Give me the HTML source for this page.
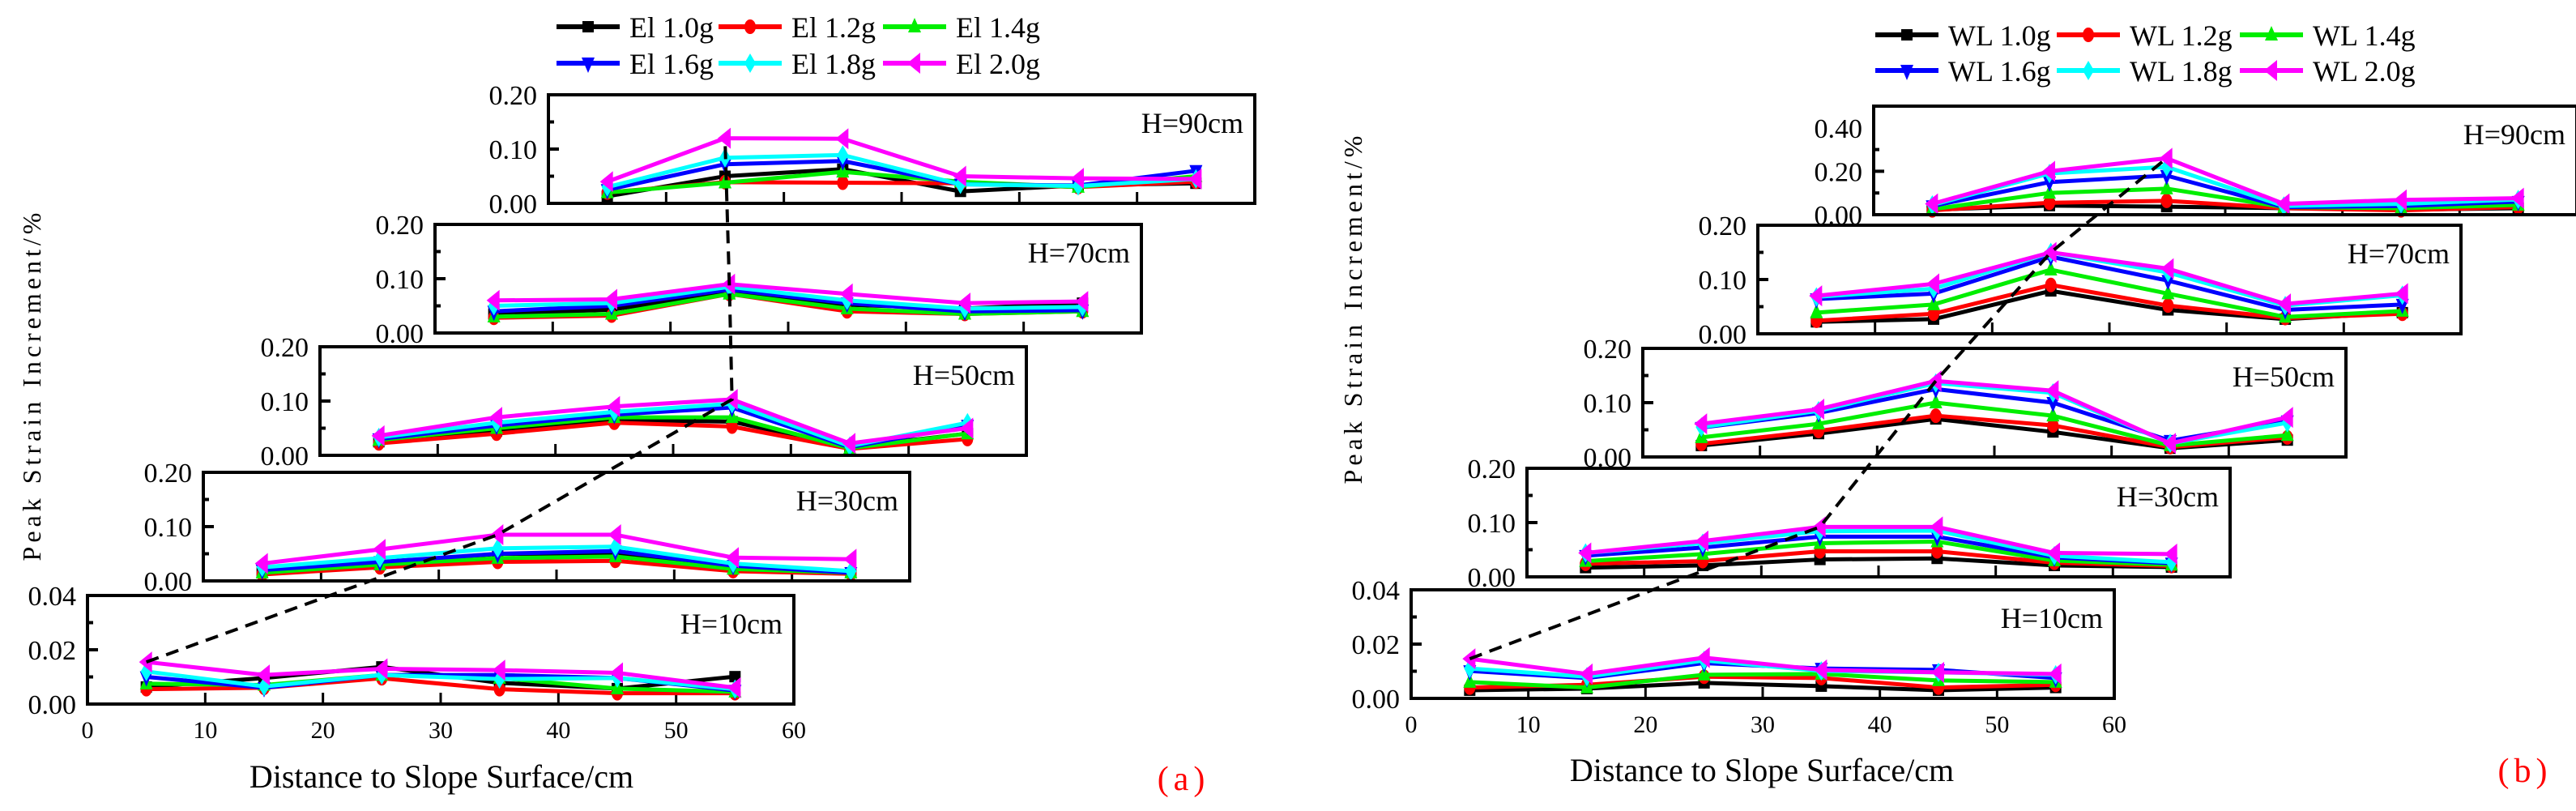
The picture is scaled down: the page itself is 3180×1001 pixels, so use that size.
<!DOCTYPE html>
<html><head><meta charset="utf-8"><style>
html,body{margin:0;padding:0;background:#fff;}
svg{display:block;font-family:"Liberation Serif","Times New Roman",serif;}
svg text{font-family:"Liberation Serif","Times New Roman",serif;}
</style></head><body>
<svg id="chart" width="3180" height="1001" viewBox="0 0 3180 1001" xmlns="http://www.w3.org/2000/svg" font-family="Liberation Serif, serif">
<rect x="0" y="0" width="3180" height="1001" fill="#fff"/>
</svg>
<script>
const distances = [5, 15, 25, 35, 45, 55];
const xTicks = [0, 10, 20, 30, 40, 50, 60];
const heights = ['H=10cm', 'H=30cm', 'H=50cm', 'H=70cm', 'H=90cm'];
const elNames = ['El 1.0g', 'El 1.2g', 'El 1.4g', 'El 1.6g', 'El 1.8g', 'El 2.0g'];
const wlNames = ['WL 1.0g', 'WL 1.2g', 'WL 1.4g', 'WL 1.6g', 'WL 1.8g', 'WL 2.0g'];

const elH10 = [
  [0.0063, 0.0096, 0.0137, 0.0078, 0.0057, 0.0101],
  [0.0055, 0.006, 0.0095, 0.0055, 0.004, 0.004],
  [0.0075, 0.007, 0.0107, 0.0096, 0.0057, 0.0045],
  [0.010, 0.006, 0.0107, 0.0107, 0.0096, 0.005],
  [0.012, 0.0065, 0.0107, 0.0092, 0.0096, 0.0055],
  [0.0155, 0.0107, 0.013, 0.0125, 0.0115, 0.006]
];
const elH30 = [
  [0.015, 0.030, 0.050, 0.050, 0.025, 0.015],
  [0.012, 0.025, 0.035, 0.037, 0.018, 0.013],
  [0.015, 0.030, 0.042, 0.045, 0.022, 0.015],
  [0.020, 0.035, 0.050, 0.055, 0.028, 0.015],
  [0.025, 0.042, 0.060, 0.063, 0.032, 0.018],
  [0.032, 0.058, 0.085, 0.085, 0.043, 0.040]
];
const elH50 = [
  [0.025, 0.045, 0.065, 0.062, 0.015, 0.040],
  [0.022, 0.040, 0.060, 0.053, 0.012, 0.030],
  [0.028, 0.050, 0.070, 0.070, 0.013, 0.040],
  [0.030, 0.055, 0.075, 0.088, 0.015, 0.055],
  [0.033, 0.060, 0.080, 0.095, 0.017, 0.060],
  [0.036, 0.070, 0.090, 0.103, 0.022, 0.050]
];
const elH70 = [
  [0.035, 0.043, 0.075, 0.052, 0.045, 0.055],
  [0.028, 0.032, 0.072, 0.040, 0.035, 0.040],
  [0.030, 0.035, 0.072, 0.045, 0.035, 0.040],
  [0.040, 0.050, 0.080, 0.055, 0.040, 0.042],
  [0.050, 0.055, 0.085, 0.060, 0.045, 0.048],
  [0.060, 0.062, 0.090, 0.072, 0.055, 0.058]
];
const elH90 = [
  [0.013, 0.050, 0.063, 0.022, 0.033, 0.037],
  [0.020, 0.039, 0.038, 0.037, 0.030, 0.040],
  [0.020, 0.038, 0.058, 0.040, 0.030, 0.050],
  [0.025, 0.072, 0.078, 0.035, 0.033, 0.060],
  [0.030, 0.084, 0.089, 0.035, 0.032, 0.045],
  [0.040, 0.120, 0.119, 0.050, 0.046, 0.045]
];
const wlH10 = [
  [0.003, 0.0036, 0.0057, 0.0045, 0.003, 0.004],
  [0.004, 0.005, 0.008, 0.0075, 0.004, 0.005],
  [0.006, 0.004, 0.0087, 0.009, 0.0066, 0.006],
  [0.0101, 0.0075, 0.013, 0.011, 0.0105, 0.0075],
  [0.011, 0.008, 0.014, 0.0101, 0.0096, 0.0087],
  [0.0146, 0.009, 0.015, 0.0105, 0.0096, 0.009]
];
const wlH30 = [
  [0.017, 0.021, 0.032, 0.034, 0.021, 0.018],
  [0.024, 0.029, 0.047, 0.047, 0.026, 0.020],
  [0.029, 0.042, 0.062, 0.065, 0.030, 0.022],
  [0.039, 0.054, 0.074, 0.074, 0.036, 0.025],
  [0.044, 0.062, 0.084, 0.085, 0.039, 0.027],
  [0.044, 0.066, 0.092, 0.092, 0.044, 0.042]
];
const wlH50 = [
  [0.021, 0.043, 0.070, 0.046, 0.016, 0.031],
  [0.024, 0.048, 0.076, 0.058, 0.018, 0.036],
  [0.036, 0.061, 0.100, 0.076, 0.021, 0.040],
  [0.054, 0.081, 0.125, 0.100, 0.030, 0.066],
  [0.055, 0.085, 0.136, 0.118, 0.025, 0.063],
  [0.061, 0.088, 0.140, 0.122, 0.025, 0.073]
];
const wlH70 = [
  [0.022, 0.027, 0.079, 0.044, 0.027, 0.039],
  [0.024, 0.037, 0.090, 0.052, 0.029, 0.037],
  [0.039, 0.054, 0.118, 0.074, 0.031, 0.042],
  [0.064, 0.074, 0.142, 0.098, 0.044, 0.054],
  [0.068, 0.083, 0.150, 0.113, 0.052, 0.071],
  [0.070, 0.092, 0.150, 0.120, 0.055, 0.074]
];
const wlH90 = [
  [0.023, 0.042, 0.037, 0.030, 0.023, 0.030],
  [0.020, 0.055, 0.064, 0.030, 0.020, 0.035],
  [0.025, 0.100, 0.120, 0.035, 0.030, 0.045],
  [0.040, 0.150, 0.180, 0.035, 0.040, 0.060],
  [0.045, 0.190, 0.220, 0.040, 0.050, 0.070],
  [0.050, 0.200, 0.260, 0.050, 0.068, 0.076]
];
const yTicksStd = [0, 0.05, 0.10, 0.15, 0.20];
const yLabelsStd = ['0.00', '', '0.10', '', '0.20'];
const yTicksH10 = [0, 0.01, 0.02, 0.03, 0.04];
const yLabelsH10 = ['0.00', '', '0.02', '', '0.04'];
const yTicksWl90 = [0, 0.1, 0.2, 0.3, 0.4];
const yLabelsWl90 = ['0.00', '', '0.20', '', '0.40'];
const elGuideIdx = [0, 2, 3, 2, 1];
const wlGuideIdx = [0, 2, 2, 2, 2];

const colors = ['#000000', '#ff0000', '#00ee00', '#0000ff', '#00ffff', '#ff00ff'];
const NS = 'http://www.w3.org/2000/svg';
const svg = document.getElementById('chart');
const FONT = '"Liberation Serif", "Times New Roman", serif';

function mk(tag, attrs, parent) {
  const e = document.createElementNS(NS, tag);
  for (const k in attrs) e.setAttribute(k, attrs[k]);
  if (tag === 'text') e.style.fontFamily = FONT;
  (parent || svg).appendChild(e);
  return e;
}

function marker(g, type, x, y, c) {
  let e;
  if (type === 0) e = mk('rect', {x: x - 7, y: y - 7, width: 14, height: 14, fill: c}, g);
  else if (type === 1) e = mk('ellipse', {cx: x, cy: y, rx: 7, ry: 9, fill: c}, g);
  else if (type === 2) e = mk('polygon', {points: `${x},${y - 11} ${x - 8},${y + 7} ${x + 8},${y + 7}`, fill: c}, g);
  else if (type === 3) e = mk('polygon', {points: `${x},${y + 12} ${x - 8},${y - 7} ${x + 8},${y - 7}`, fill: c}, g);
  else if (type === 4) e = mk('polygon', {points: `${x},${y - 12} ${x + 7},${y} ${x},${y + 12} ${x - 7},${y}`, fill: c}, g);
  else e = mk('polygon', {points: `${x - 9},${y} ${x + 7},${y - 13} ${x + 7},${y + 13}`, fill: c}, g);
  
  
}

function drawPanel(p) {
  const pg = mk('g', {});
  
  
  const guidePts = [];
  for (let b = 0; b < 5; b++) {
    const L = p.lefts[b], T = p.tops[b], W = p.w, H = 134;
    const data = p.data[b];
    const ymax = p.ymax[b];
    const sx = d => L + d / 60 * W;
    const sy = v => T + H - v / ymax * H;
    const g = mk('g', {}, pg);
    
    
    for (let i = 1; i < 6; i++) {
      const t = mk('line', {x1: sx(xTicks[i]), x2: sx(xTicks[i]), y1: T + H, y2: T + H - 14, stroke: '#000', 'stroke-width': 3}, g);
      
      
    }
    const yt = p.yTicks[b], yl = p.yLabels[b];
    for (let i = 0; i < yt.length; i++) {
      const y = sy(yt[i]);
      const len = yl[i] ? 13 : 7;
      if (i > 0 && i < yt.length - 1) {
        const t = mk('line', {x1: L, x2: L + len, y1: y, y2: y, stroke: '#000', 'stroke-width': 4}, g);
        
        
      }
      if (yl[i]) {
        const tx = mk('text', {x: L - 14, y: y + 12, 'text-anchor': 'end', 'font-size': 34}, g);
        tx.textContent = yl[i];
        
        
      }
    }
    const ht = mk('text', {x: L + W - 14, y: T + 47, 'text-anchor': 'end', 'font-size': 36}, g);
    ht.textContent = heights[b];
    
    
    for (let s = 0; s < 6; s++) {
      const pts = data[s].map((v, i) => sx(distances[i]) + ',' + sy(v)).join(' ');
      const pl = mk('polyline', {points: pts, fill: 'none', stroke: colors[s], 'stroke-width': 5, 'stroke-linejoin': 'round'}, g);
      
      
      data[s].forEach((v, i) => marker(g, s, sx(distances[i]), sy(v), colors[s]));
    }
    const gi = p.guide[b];
    guidePts.push([sx(distances[gi]), sy(data[5][gi])]);
    const box = mk('rect', {x: L, y: T, width: W, height: H, fill: 'none', stroke: '#000', 'stroke-width': 4}, g);
    
    
    if (b === 0) {
      for (let i = 0; i < xTicks.length; i++) {
        const tx = mk('text', {x: sx(xTicks[i]), y: T + H + 42, 'text-anchor': 'middle', 'font-size': 30}, g);
        tx.textContent = xTicks[i];
        
        
      }
    }
  }
  const gl = mk('polyline', {points: guidePts.map(q => q.join(',')).join(' '), fill: 'none', stroke: '#000', 'stroke-width': 4, 'stroke-dasharray': '16 10'}, pg);
  
  
  const lg = mk('g', {}, pg);
  
  
  for (let s = 0; s < 6; s++) {
    const col = s % 3, row = Math.floor(s / 3);
    const x0 = p.legX[col], y0 = p.legY[row];
    const eg = mk('g', {}, lg);
    
    
    mk('line', {x1: x0, x2: x0 + 78, y1: y0, y2: y0, stroke: colors[s], 'stroke-width': 6}, eg);
    marker(eg, s, x0 + 39, y0, colors[s]);
    const t = mk('text', {x: x0 + 90, y: y0 + 13, 'font-size': 36}, eg);
    t.textContent = p.names[s];
  }
  const yl = mk('text', {x: 0, y: 0, 'text-anchor': 'middle', 'font-size': 32, 'letter-spacing': 5, transform: `translate(${p.ylabX},${p.ylabY}) rotate(-90)`}, pg);
  yl.textContent = 'Peak Strain Increment/%';
  
  
  const xl = mk('text', {x: p.xlabX, y: p.xlabY, 'text-anchor': 'middle', 'font-size': 40}, pg);
  xl.textContent = 'Distance to Slope Surface/cm';
  
  
  const tag = mk('text', {x: p.tagX, y: p.tagY, 'text-anchor': 'middle', 'font-size': 42, 'letter-spacing': 6, fill: '#ff0000'}, pg);
  tag.textContent = p.tag;
  
  
}

drawPanel({
  name: 'panel-a-el', names: elNames,
  data: [elH10, elH30, elH50, elH70, elH90],
  lefts: [108, 251, 395, 537, 677], tops: [735, 583, 428, 277, 117], w: 872,
  ymax: [0.04, 0.2, 0.2, 0.2, 0.2],
  yTicks: [yTicksH10, yTicksStd, yTicksStd, yTicksStd, yTicksStd],
  yLabels: [yLabelsH10, yLabelsStd, yLabelsStd, yLabelsStd, yLabelsStd],
  guide: elGuideIdx,
  legX: [687, 887, 1090], legY: [33, 78],
  ylabX: 50, ylabY: 475, xlabX: 545, xlabY: 972, tagX: 1461, tagY: 975, tag: '(a)'
});
drawPanel({
  name: 'panel-b-wl', names: wlNames,
  data: [wlH10, wlH30, wlH50, wlH70, wlH90],
  lefts: [1742, 1885, 2028, 2170, 2313], tops: [728, 578, 430, 278, 131], w: 868,
  ymax: [0.04, 0.2, 0.2, 0.2, 0.5],
  yTicks: [yTicksH10, yTicksStd, yTicksStd, yTicksStd, yTicksWl90],
  yLabels: [yLabelsH10, yLabelsStd, yLabelsStd, yLabelsStd, yLabelsWl90],
  guide: wlGuideIdx,
  legX: [2315, 2539, 2765], legY: [43, 87],
  ylabX: 1681, ylabY: 380, xlabX: 2175, xlabY: 964, tagX: 3117, tagY: 965, tag: '(b)'
});
</script>
</body></html>
